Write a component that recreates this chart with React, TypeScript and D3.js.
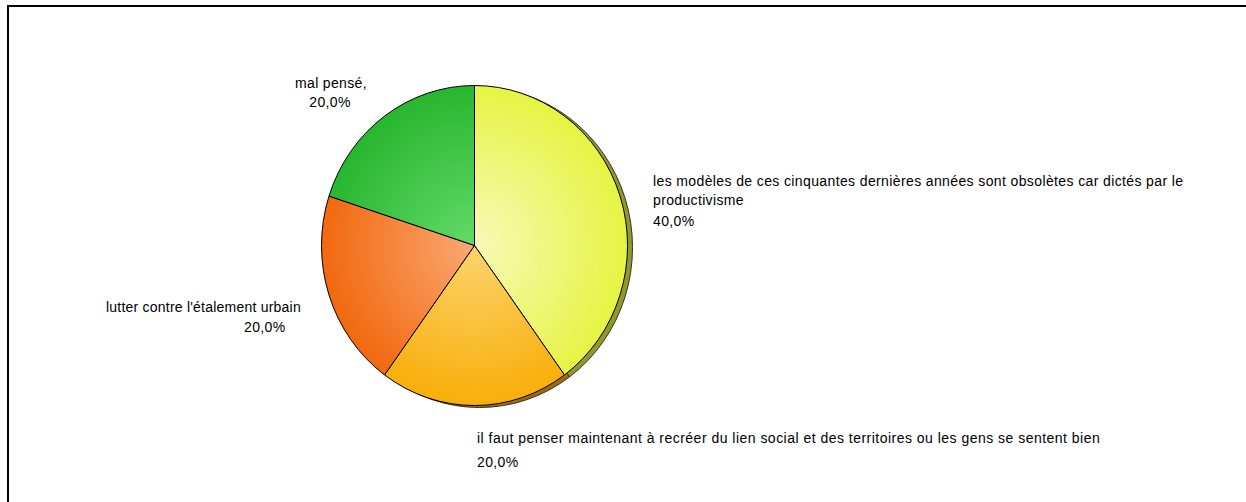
import React from "react";
import * as d3 from "d3";

const categories = [
  "les modèles de ces cinquantes dernières années sont obsolètes car dictés par le productivisme",
  "il faut penser maintenant à recréer du lien social et des territoires ou les gens se sentent bien",
  "lutter contre l'étalement urbain",
  "mal pensé,",
];
const values = [40, 20, 20, 20];
const percentLabels = ["40,0%", "20,0%", "20,0%", "20,0%"];
const edgeColors = ["#e6f443", "#f9ae0a", "#f2680f", "#29b62f"];
const centerColors = ["#f7fab8", "#fcd46e", "#faa872", "#62db68"];

const W = 1246;
const H = 502;
const CX = 474.5;
const CY = 245.5;
const RX = 153;
const RY = 160;

export default function App() {
  const pie = d3
    .pie<number>()
    .sort(null)
    .value((d) => d);
  const arcs = pie(values);
  const arc = d3.arc<d3.PieArcDatum<number>>().innerRadius(0).outerRadius(1);
  const font = "'Liberation Sans', Arial, sans-serif";
  const fs = 14;

  return (
    <div style={{ position: "absolute", left: 0, top: 0 }}>
      <svg width={W} height={H} style={{ display: "block" }}>
        <defs>
          {arcs.map((a, i) => (
            <radialGradient
              key={i}
              id={`g${i}`}
              gradientUnits="userSpaceOnUse"
              cx={0}
              cy={0}
              r={1}
            >
              <stop offset="0%" stopColor={centerColors[i]} />
              <stop offset="100%" stopColor={edgeColors[i]} />
            </radialGradient>
          ))}
        </defs>
        <rect x={0} y={0} width={W} height={H} fill="#fff" />
        <line x1={7} y1={6} x2={W} y2={6} stroke="#000" strokeWidth={2} />
        <line x1={8} y1={5} x2={8} y2={H} stroke="#000" strokeWidth={2} />

        {/* shadow / depth */}
        <g transform={`translate(${CX + 5},${CY + 2}) scale(${RX},${RY})`}>
          {arcs.map((a, i) => (
            <path
              key={i}
              d={arc(a) || ""}
              fill={d3.color(edgeColors[i])!.darker(1.3).formatHex()}
              stroke="#333"
              strokeWidth={1}
              vectorEffect="non-scaling-stroke"
            />
          ))}
        </g>
        <g transform={`translate(${CX},${CY}) scale(${RX},${RY})`}>
          {arcs.map((a, i) => (
            <path
              key={i}
              d={arc(a) || ""}
              fill={`url(#g${i})`}
              stroke="#000"
              strokeWidth={1}
              vectorEffect="non-scaling-stroke"
            />
          ))}
        </g>

        <g fontFamily={font} fontSize={fs} fill="#000" letterSpacing={0.35}>
          <text x={653} y={186} letterSpacing={0.38}>
            les modèles de ces cinquantes dernières années sont obsolètes car dictés par le
          </text>
          <text x={653} y={205}>productivisme</text>
          <text x={653} y={226}>{percentLabels[0]}</text>

          <text x={477} y={443} letterSpacing={0.48}>
            {categories[1]}
          </text>
          <text x={477} y={467}>{percentLabels[1]}</text>

          <text x={106} y={312} letterSpacing={0.22}>{categories[2]}</text>
          <text x={244} y={332}>{percentLabels[2]}</text>

          <text x={331} y={88} textAnchor="middle">
            {categories[3]}
          </text>
          <text x={330} y={107} textAnchor="middle">
            {percentLabels[3]}
          </text>
        </g>
      </svg>
    </div>
  );
}
